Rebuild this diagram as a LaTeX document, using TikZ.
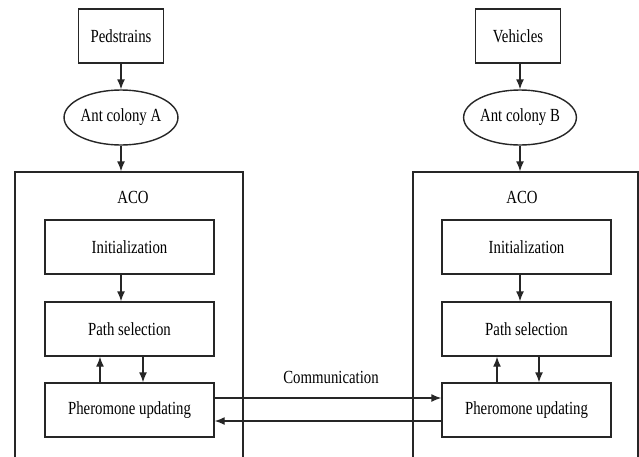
\documentclass[tikz,border=0pt]{standalone}
\usepackage{fontspec}
\newfontfamily\diagfont[FakeStretch=0.8]{Liberation Serif}
\usetikzlibrary{arrows.meta,shapes.geometric}
\begin{document}
\begin{tikzpicture}[x=1pt,y=-1pt,
  every node/.style={font=\diagfont\fontsize{18.5}{20}\selectfont, inner sep=0pt},
  line/.style={draw=black!85, line width=1.4pt},
  arr/.style={line, -{Latex[length=10pt,width=8pt]}},
  srcbox/.style={line, rectangle, minimum width=85pt, minimum height=54pt},
  colony/.style={line, ellipse, minimum width=107pt, minimum height=55pt},
  stepbox/.style={line, rectangle, minimum width=169pt, minimum height=54pt},
  outerbox/.style={line, rectangle, minimum height=300pt}
]
\clip (0,0) rectangle (639,456);
\fill[white] (0,0) rectangle (639,456);

% left column
\node[srcbox] (ped) at (121,36) {Pedstrains};
\node[colony] (colA) at (121,117.5) {Ant colony A};
\node[outerbox, minimum width=228pt] (outA) at (129,322) {};
\node (acoA) at (133,197) {ACO};
\node[stepbox] (initA) at (129.5,247) {Initialization};
\node[stepbox] (pathA) at (129.5,329) {Path selection};
\node[stepbox] (pherA) at (129.5,410) {Pheromone updating};

% right column
\node[srcbox] (veh) at (518,36) {Vehicles};
\node[colony] (colB) at (520,117.5) {Ant colony B};
\node[outerbox, minimum width=225pt] (outB) at (525.5,322) {};
\node (acoB) at (522,197) {ACO};
\node[stepbox] (initB) at (526.5,247) {Initialization};
\node[stepbox] (pathB) at (526.5,329) {Path selection};
\node[stepbox] (pherB) at (526.5,410) {Pheromone updating};

\node (comm) at (331,377) {Communication};

% left arrows
\draw[arr] (ped.south -| colA.north) -- (colA.north);
\draw[arr] (colA.south) -- (outA.north -| colA.south);
\draw[arr] (initA.south -| colA.south) -- (pathA.north -| colA.south);
\draw[arr] ([xshift=-29.5pt]pherA.north) -- ([xshift=-29.5pt]pathA.south);
\draw[arr] ([xshift=13.5pt]pathA.south) -- ([xshift=13.5pt]pherA.north);

% right arrows
\draw[arr] (veh.south -| colB.north) -- (colB.north);
\draw[arr] (colB.south) -- (outB.north -| colB.south);
\draw[arr] (initB.south -| colB.south) -- (pathB.north -| colB.south);
\draw[arr] ([xshift=-29.5pt]pherB.north) -- ([xshift=-29.5pt]pathB.south);
\draw[arr] ([xshift=12.5pt]pathB.south) -- ([xshift=12.5pt]pherB.north);

% communication
\draw[arr] ([yshift=12pt]pherA.east) -- ([yshift=12pt]pherB.west);
\draw[arr] ([yshift=-11pt]pherB.west) -- ([yshift=-11pt]pherA.east);
\end{tikzpicture}
\end{document}
